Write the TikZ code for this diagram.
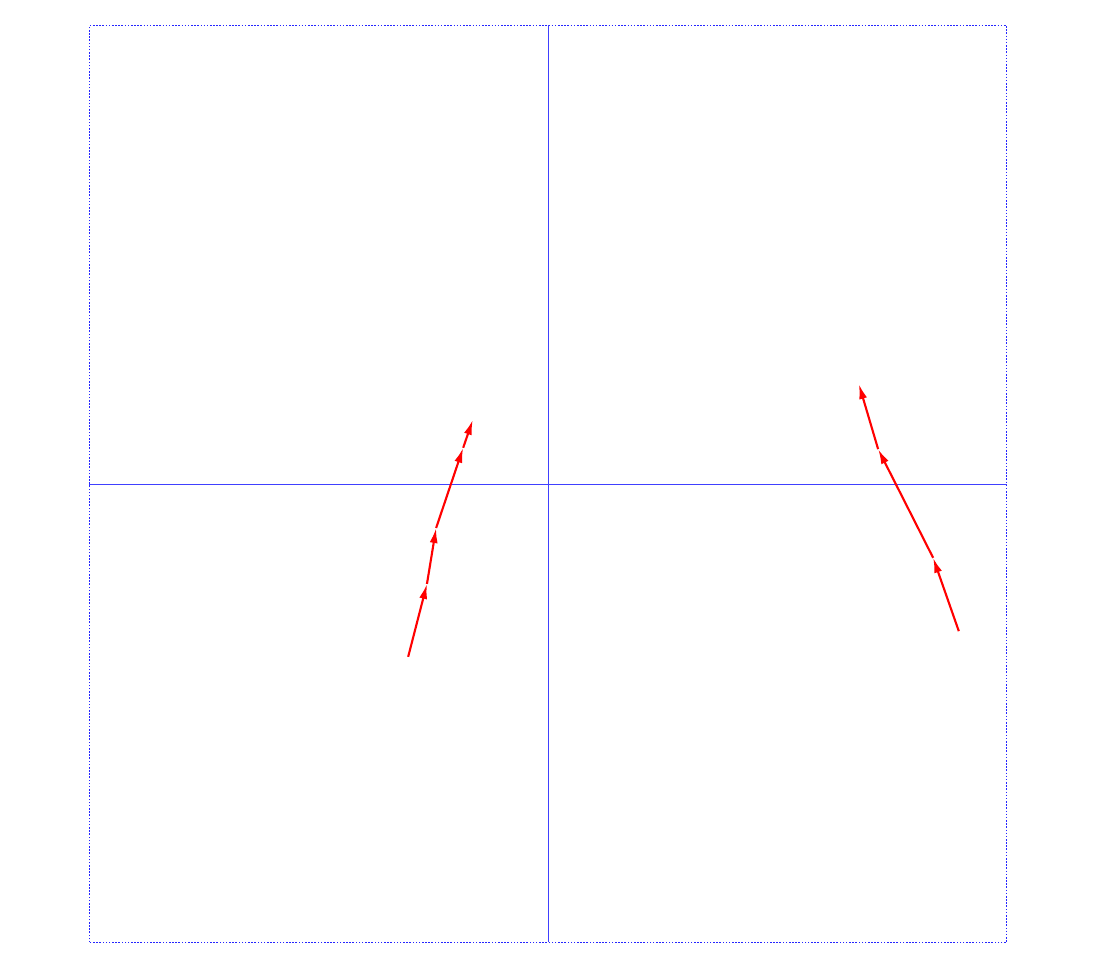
\documentclass[tikz,border=0pt]{standalone}
\usetikzlibrary{arrows.meta}
\tikzset{
	gridline/.style={blue!75, line width=0.25pt},
	frameline/.style={blue!85, line width=0.45pt, dash pattern=on 0.45pt off 0.45pt},
	flowarrow/.style={red, line width=0.6pt, -{Latex[length=1.5mm, width=0.8mm]}}
}
\begin{document}
\begin{tikzpicture}
      \useasboundingbox (0,0) rectangle (10.96,9.64);
      \begin{scope}[shift={(5.48,4.80)}, x=4.585cm, y=4.585cm]
        \draw[frameline] (-1,-1) rectangle (1,1);
        \draw[gridline] (-1,0) -- (1,0);
        \draw[gridline] (0,-1) -- (0,1);
        % left path
        \foreach \n/\x/\y in {a0/-0.305/-0.377, a1/-0.264/-0.218, a2/-0.244/-0.096, a3/-0.185/0.079, a4/-0.164/0.140}
          \coordinate (\n) at (\x,\y);
        % right path
        \foreach \n/\x/\y in {b0/0.896/-0.321, b1/0.840/-0.161, b2/0.720/0.076, b3/0.678/0.218}
          \coordinate (\n) at (\x,\y);
        \foreach \s/\t in {a0/a1, a1/a2, a2/a3, a3/a4, b0/b1, b1/b2, b2/b3}
          \draw[flowarrow] (\s) -- (\t);
      \end{scope}
    \end{tikzpicture}
\end{document}
